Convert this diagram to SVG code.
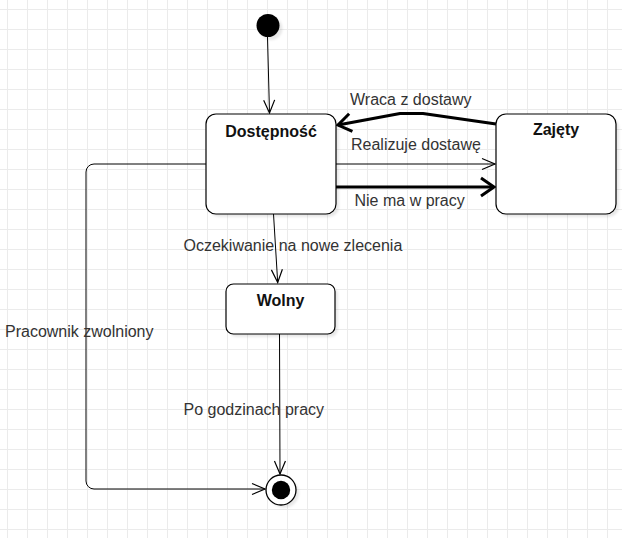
<svg xmlns="http://www.w3.org/2000/svg" width="622" height="538" viewBox="0 0 622 538">
<style>
.node{fill:#fff;stroke:#000;stroke-width:1.2}
.shadow{fill:#000;fill-opacity:0.09;filter:url(#blur)}
.title{font-family:"Liberation Sans",Arial,sans-serif;font-size:16px;font-weight:bold;fill:#111;text-anchor:middle}
.lbl{font-family:"Liberation Sans",Arial,sans-serif;font-size:16px;fill:#333}
.thin{fill:none;stroke:#000;stroke-width:1;marker-end:url(#open)}
.thick{fill:none;stroke:#000;stroke-width:3;stroke-linejoin:round;marker-end:url(#openThick)}
</style>
<defs>
<pattern id="grid" width="20" height="20" patternUnits="userSpaceOnUse" x="7" y="9">
<path d="M0.5,0 V20 M0,0.5 H20" fill="none" stroke="#ebebeb" stroke-width="1"/>
</pattern>
<filter id="blur" x="-20%" y="-20%" width="140%" height="140%"><feGaussianBlur stdDeviation="1.2"/></filter>
<marker id="open" markerUnits="userSpaceOnUse" markerWidth="30" markerHeight="30" viewBox="-20 -15 30 30" refX="0" refY="0" orient="auto" overflow="visible">
<path d="M-13,-5.5 L0,0 L-13,5.5" fill="none" stroke="#000" stroke-width="1.2"/>
</marker>
<marker id="openThick" markerUnits="userSpaceOnUse" markerWidth="40" markerHeight="40" viewBox="-25 -20 40 40" refX="0" refY="0" orient="auto" overflow="visible">
<path d="M-13,-9 L0,0 L-13,9" fill="none" stroke="#000" stroke-width="3" stroke-linejoin="miter"/>
</marker>
</defs>
<rect width="622" height="538" fill="#fff"/>
<rect width="622" height="538" fill="url(#grid)"/>

<g id="edges">
<path class="thin" d="M267.5,37 L269.5,113"/>
<path class="thick" d="M496,124 L423,113.5 L400,113.5 L338,125"/>
<path class="thin" d="M336,164 L495,164"/>
<path class="thick" d="M336,187 L494,187"/>
<path class="thin" d="M273.5,214 L277.7,282.5"/>
<path class="thin" d="M279.5,334 L280,474"/>
<path class="thin" d="M206,164 H94 A8,8 0 0 0 86,172 V481 A8,8 0 0 0 94,489 H265"/>
<text class="lbl" x="350" y="105">Wraca z dostawy</text>
<text class="lbl" x="351" y="149.5">Realizuje dostawę</text>
<text class="lbl" x="354.5" y="205.5">Nie ma w pracy</text>
<text class="lbl" x="183.5" y="250.5">Oczekiwanie na nowe zlecenia</text>
<text class="lbl" x="183.5" y="415">Po godzinach pracy</text>
<text class="lbl" x="5" y="337">Pracownik zwolniony</text>
</g>

<g id="start">
<circle class="shadow" cx="271" cy="28.5" r="11.5"/>
<circle cx="268" cy="25.5" r="11.5" fill="#000"/>
</g>

<g id="dostepnosc">
<rect class="shadow" x="209" y="117" width="130" height="100" rx="10"/>
<rect class="node" x="206" y="114" width="130" height="100" rx="10"/>
<text class="title" x="271" y="136.5">Dostępność</text>
</g>

<g id="zajety">
<rect class="shadow" x="499" y="117" width="120" height="100" rx="10"/>
<rect class="node" x="496" y="114" width="120" height="100" rx="10"/>
<text class="title" x="556" y="135">Zajęty</text>
</g>

<g id="wolny">
<rect class="shadow" x="229" y="287" width="109" height="50" rx="7.5"/>
<rect class="node" x="226" y="284" width="109" height="50" rx="7.5"/>
<text class="title" x="280.5" y="305.5">Wolny</text>
</g>

<g id="end">
<circle class="shadow" cx="284" cy="493" r="15"/>
<circle cx="281" cy="490" r="15" fill="#fff" stroke="#000" stroke-width="1.3"/>
<circle cx="281" cy="490" r="9.2" fill="#000"/>
</g>
</svg>
